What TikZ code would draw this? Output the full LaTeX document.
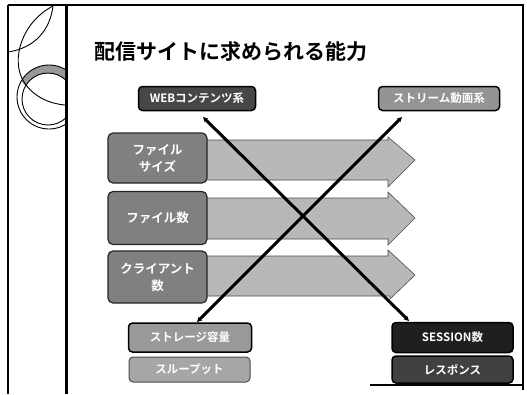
\documentclass[tikz,border=0pt]{standalone}
\usepackage{fontspec}
\setmainfont{Noto Sans CJK JP}[BoldFont={Noto Sans CJK JP Bold}]
\usetikzlibrary{arrows.meta,calc}
\begin{document}
\begin{tikzpicture}[x=1pt,y=-1pt,
  frame/.style={line width=1.2pt},
  lbox/.style={draw=black!85,line width=1.2pt,rounded corners=5pt,fill=black!50,text=white,align=center,font=\bfseries\fontsize{12.5}{17}\selectfont,minimum width=99pt,minimum height=50pt,inner sep=1pt},
  tbox/.style={draw=black,line width=1.5pt,rounded corners=4pt,text=white,font=\bfseries\fontsize{11.5}{13}\selectfont,minimum height=24pt,inner sep=2pt},
  band/.style={draw=black!70,line width=0.6pt,fill=black!28},
  cross/.style={line width=3pt,{Stealth[length=5pt,width=5pt]}-{Stealth[length=5pt,width=5pt]}}
]
\useasboundingbox (0,0) rectangle (527,394);
% frame
\draw[frame] (8,5) -- (523,5) -- (523,390);
\draw[frame] (8,5) -- (8,394);
\draw[line width=3pt] (66,5) -- (66,394);
\draw[frame] (370,385) -- (523,385);
% decoration
\begin{scope}
\clip (8,5) rectangle (65,140);
\fill[black!40] ($(49,97)+(210:32)$) arc[start angle=210,end angle=330,radius=32] -- ($(48,99)+(330:26)$) arc[start angle=330,end angle=210,radius=26] -- cycle;
\draw[line width=0.9pt] (49,97) circle[radius=32];
\draw[line width=0.9pt] (48,99) circle[radius=26];
\draw[line width=0.9pt] (53,6) .. controls (22,22) and (10,60) .. (24,82) .. controls (34,98) and (52,104) .. (65,105);
\draw[line width=0.9pt] (53,6) .. controls (50,30) and (35,48) .. (8,52);
\end{scope}
% title
\node[anchor=west,font=\bfseries\fontsize{21}{24}\selectfont] (title) at (91,52) {配信サイトに求められる能力};
% arrows (bands)
\draw[band] (200,140) -- (388,140) -- (388,137) -- (415,160) -- (388,187) -- (388,180) -- (200,180) -- cycle;
\draw[band] (200,198) -- (388,198) -- (388,192) -- (415,218) -- (388,245) -- (388,239) -- (200,239) -- cycle;
\draw[band] (200,256) -- (388,256) -- (388,250) -- (415,275) -- (390,299) -- (390,296) -- (200,296) -- cycle;
% left boxes
\node[lbox] (fsize) at (157.5,158) {ファイル\\サイズ};
\node[lbox,minimum height=53pt] (fnum) at (157.5,218) {ファイル数};
\node[lbox,minimum height=52pt] (cnum) at (157.5,277) {クライアント\\数};
% top boxes
\node[tbox,fill=black!72,minimum width=117pt] (web) at (197,98.5) {WEBコンテンツ系};
\node[tbox,fill=black!42,minimum width=121pt] (strm) at (439,98.5) {ストリーム動画系};
% bottom boxes
\node[tbox,fill=black!40,minimum width=123pt,minimum height=29pt] (stor) at (190,337.5) {ストレージ容量};
\node[tbox,draw=black!70,line width=1pt,fill=black!35,minimum width=121pt,minimum height=25pt] (thru) at (189.5,369.5) {スループット};
\node[tbox,fill=black!88,minimum width=121pt,minimum height=30pt] (sess) at (452.5,337.5) {SESSION数};
\node[tbox,fill=black!75,minimum width=121pt,minimum height=27pt] (resp) at (452.5,369.5) {レスポンス};
% cross connectors
\coordinate (c1s) at (203,117);
\coordinate (c1e) at (409,321);
\coordinate (c2s) at (402,117);
\coordinate (c2e) at (197,322);
\draw[cross] (c1s) -- (c1e);
\draw[cross] (c2s) -- (c2e);
\end{tikzpicture}
\end{document}
